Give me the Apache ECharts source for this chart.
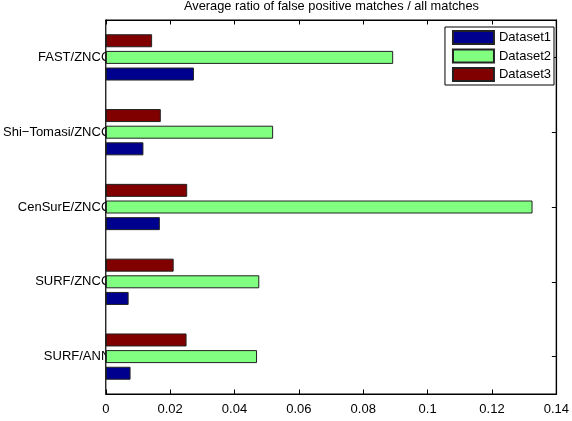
<!DOCTYPE html>
<html>
<head>
<meta charset="utf-8">
<script src="https://cdn.jsdelivr.net/npm/echarts@6/dist/echarts.min.js"></script>
<style>html,body{margin:0;padding:0;background:#fff;}#c{width:572px;height:421px;}</style>
</head>
<body>
<div id="c"></div>
<script>
var categories = ['SURF/ANN', 'SURF/ZNCC', 'CenSurE/ZNCC', 'Shi\u2212Tomasi/ZNCC', 'FAST/ZNCC'];
var dataset1 = [0.0077, 0.0071, 0.0168, 0.0117, 0.0274];
var dataset2 = [0.0470, 0.0477, 0.1326, 0.0520, 0.0893];
var dataset3 = [0.0251, 0.0211, 0.0253, 0.0171, 0.0144];
var seriesNames = ['Dataset1', 'Dataset2', 'Dataset3'];
var xTicks = { min: 0, max: 0.14, interval: 0.02 };
var titleText = 'Average ratio of false positive matches / all matches';

var W = 572, H = 421;
var G = { left: 104, top: 20, right: 13, bottom: 27 };
var FONT = 'Liberation Sans, Arial, Helvetica, sans-serif';
var colors = ['#00008F', '#80FF80', '#800000'];

var chart = echarts.init(document.getElementById('c'), null, { renderer: 'canvas' });

function bar(name, data, color) {
  return {
    name: name, type: 'bar', data: data, xAxisIndex: 0, yAxisIndex: 0,
    barWidth: 13, barGap: '28%', z: 2,
    itemStyle: { color: color, borderColor: '#222', borderWidth: 1 },
    emphasis: { disabled: true }, animation: false
  };
}

var lineStyle = { color: '#000', width: 1.2 };

var option = {
  animation: false,
  backgroundColor: '#fff',
  title: {
    text: titleText, left: G.left + (W - G.left - G.right) / 2, textAlign: 'center', top: 0, padding: 0,
    textStyle: { fontFamily: FONT, fontSize: 12.8, fontWeight: 'normal', color: '#000' }
  },
  legend: {
    orient: 'vertical', right: 18, top: 27, itemWidth: 41, itemHeight: 13, itemGap: 3.5,
    padding: [3, 3, 3, 7], borderColor: '#000', borderWidth: 1, backgroundColor: '#fff',
    icon: 'rect',
    data: seriesNames, selectedMode: false, z: 10,
    textStyle: { fontFamily: FONT, fontSize: 13, color: '#000', lineHeight: 13 }
  },
  grid: { left: G.left, top: G.top, right: G.right, bottom: G.bottom, containLabel: false,
    show: true, borderColor: '#000', borderWidth: 1.2, backgroundColor: 'transparent', z: 4 },
  graphic: [{
    type: 'rect', z: 1, silent: true,
    shape: { x: G.left + 1.5, y: G.top + 1.5, width: W - G.left - G.right - 3, height: H - G.top - G.bottom - 3 },
    style: { fill: '#fff' }
  }],
  xAxis: [{
    type: 'value', position: 'bottom', min: xTicks.min, max: xTicks.max, interval: xTicks.interval, z: 3,
    axisLine: { show: true, onZero: false, lineStyle: lineStyle },
    axisTick: { show: true, inside: true, length: 4.5, lineStyle: { color: '#000' } },
    axisLabel: { margin: 9, fontFamily: FONT, fontSize: 13, color: '#000' },
    splitLine: { show: false }
  }, {
    type: 'value', position: 'top', min: xTicks.min, max: xTicks.max, interval: xTicks.interval, z: 3,
    axisLine: { show: true, onZero: false, lineStyle: lineStyle },
    axisTick: { show: true, inside: true, length: 4.5, lineStyle: { color: '#000' } },
    axisLabel: { show: false }, splitLine: { show: false }
  }],
  yAxis: [{
    type: 'category', position: 'left', data: categories, z: 0,
    axisLine: { show: true, onZero: false, lineStyle: lineStyle },
    axisTick: { show: false },
    axisLabel: { margin: -4.5, fontFamily: FONT, fontSize: 13, color: '#000', interval: 0 },
    splitLine: { show: false }
  }, {
    type: 'category', position: 'right', data: categories, z: 3,
    axisLine: { show: true, onZero: false, lineStyle: lineStyle },
    axisTick: { show: true, inside: true, alignWithLabel: true, length: 4.5, lineStyle: { color: '#000' } },
    axisLabel: { show: false }, splitLine: { show: false }
  }],
  series: [
    bar(seriesNames[2], dataset3, colors[2]),
    bar(seriesNames[1], dataset2, colors[1]),
    bar(seriesNames[0], dataset1, colors[0])
  ]
};
chart.setOption(option);
</script>
</body>
</html>
